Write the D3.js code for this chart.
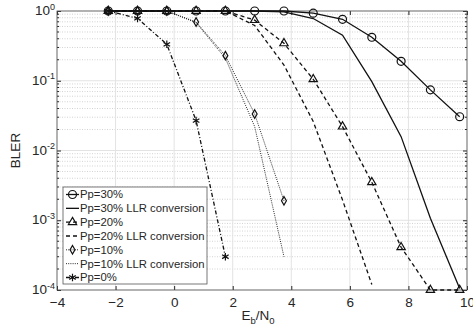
<!DOCTYPE html>
<html>
<head>
<meta charset="utf-8">
<script src="https://cdn.jsdelivr.net/npm/d3@7"></script>
<style>
  body { margin: 0; background: #fff; }
  svg { font-family: "Liberation Sans", Arial, sans-serif; }
</style>
</head>
<body>
<div id="chart"></div>
<script>
let ebn0 = [-2.25, -1.25, -0.25, 0.75, 1.75, 2.75, 3.75, 4.75, 5.75, 6.75, 7.75, 8.75, 9.75]

let pp30 = [1, 1, 1, 1, 1, 1, 1, 0.93, 0.76, 0.42, 0.19, 0.074, 0.0305]
let pp30llr = [1, 1, 1, 1, 1, 1, 0.97, 0.78, 0.45, 0.097, 0.0158, 0.00107, 0.000105]
let pp20 = [1, 1, 1, 1, 1, 0.74, 0.344, 0.105, 0.022, 0.0035, 0.00041, 0.0001, 0.0001]
let pp20llr = [1, 1, 1, 1, 1, 0.62, 0.168, 0.026, 0.00195, 0.00012]
let pp10 = [1, 1, 1, 0.695, 0.229, 0.0334, 0.0019]
let pp10llr = [1, 1, 1, 0.68, 0.21, 0.022, 0.0003]
let pp0 = [1, 0.785, 0.333, 0.0268, 0.0003]

let xTicks = [-4, -2, 0, 2, 4, 6, 8, 10]
let yTicks = [1e-4, 1e-3, 1e-2, 1e-1, 1]
let labels = ['Pp=30%', 'Pp=30% LLR conversion', 'Pp=20%', 'Pp=20% LLR conversion',
  'Pp=10%', 'Pp=10% LLR conversion', 'Pp=0%']

let margin = { top: 11, left: 57, right: 6, bottom: 39 }
let width = 473 - margin.left - margin.right
let height = 329 - margin.top - margin.bottom

let svg = d3
  .select('#chart')
  .append('svg')
  .attr('width', 473)
  .attr('height', 329)
  .append('g')
  .attr('transform', 'translate(' + margin.left + ',' + margin.top + ')')

let x = d3.scaleLinear().domain([-4, 10]).range([0, width])
let y = d3.scaleLog().domain([1e-4, 1]).range([height, 0])

// minor grid (dotted) for the log axis
let minor = []
yTicks.slice(0, -1).forEach(d => {
  for (let k = 2; k <= 9; k++) minor.push(d * k)
})

svg.append('g')
  .selectAll('line')
  .data(minor)
  .enter()
  .append('line')
  .attr('x1', 0)
  .attr('x2', width)
  .attr('y1', d => y(d))
  .attr('y2', d => y(d))
  .attr('stroke', '#c8c8c8')
  .attr('stroke-width', 0.8)
  .attr('stroke-dasharray', '1,1.5')

svg.append('g')
  .selectAll('line')
  .data(yTicks)
  .enter()
  .append('line')
  .attr('x1', 0)
  .attr('x2', width)
  .attr('y1', d => y(d))
  .attr('y2', d => y(d))
  .attr('stroke', '#e3e3e3')

svg.append('g')
  .selectAll('line')
  .data(xTicks)
  .enter()
  .append('line')
  .attr('x1', d => x(d))
  .attr('x2', d => x(d))
  .attr('y1', 0)
  .attr('y2', height)
  .attr('stroke', '#e3e3e3')

// axes, ticks inward like matlab
let xAxis = svg.append('g')
  .attr('transform', 'translate(0,' + height + ')')
  .call(d3.axisBottom(x).tickValues(xTicks).tickSizeInner(-4).tickSizeOuter(0).tickPadding(7))
xAxis.select('.domain').remove()
xAxis.selectAll('line').attr('stroke', '#262626')
xAxis.selectAll('text').attr('font-size', 13.5).attr('fill', '#262626')

svg.append('g')
  .call(d3.axisTop(x).tickValues(xTicks).tickSizeInner(-4).tickSizeOuter(0).tickFormat(''))
  .call(g => g.select('.domain').remove())
  .selectAll('line').attr('stroke', '#262626')

let yAxis = svg.append('g')
  .call(d3.axisLeft(y).tickValues(yTicks).tickSizeInner(-4).tickSizeOuter(0).tickPadding(2).tickFormat(''))
yAxis.select('.domain').remove()
yAxis.selectAll('line').attr('stroke', '#262626')
yAxis.selectAll('.tick text')
  .attr('font-size', 13.5)
  .attr('fill', '#262626')
  .each(function(d) {
    let t = d3.select(this)
    t.append('tspan').attr('dy', 3.5).text('10')
    t.append('tspan')
      .attr('font-size', 9)
      .attr('dy', -5.5)
      .text(Math.round(Math.log10(d)))
  })

svg.append('g')
  .attr('transform', 'translate(' + width + ',0)')
  .call(d3.axisRight(y).tickValues(yTicks).tickSizeInner(-4).tickSizeOuter(0).tickFormat(''))
  .call(g => g.select('.domain').remove())
  .selectAll('line').attr('stroke', '#262626')

// minor ticks on both sides
svg.append('g')
  .selectAll('line')
  .data(minor)
  .enter()
  .append('line')
  .attr('x1', 0)
  .attr('x2', 2)
  .attr('y1', d => y(d))
  .attr('y2', d => y(d))
  .attr('stroke', '#262626')
svg.append('g')
  .selectAll('line')
  .data(minor)
  .enter()
  .append('line')
  .attr('x1', width - 2)
  .attr('x2', width)
  .attr('y1', d => y(d))
  .attr('y2', d => y(d))
  .attr('stroke', '#262626')

svg.append('rect')
  .attr('width', width)
  .attr('height', height)
  .attr('fill', 'none')
  .attr('stroke', '#555')
  .attr('stroke-width', 0.8)

// series
let series = [
  { values: pp30, dash: null, symbol: d3.symbolCircle, size: 50 },
  { values: pp30llr, dash: null, symbol: null },
  { values: pp20, dash: '4,3', symbol: d3.symbolTriangle, size: 30 },
  { values: pp20llr, dash: '4,3', symbol: null },
  { values: pp10, dash: '1,1.2', symbol: d3.symbolDiamond, size: 21 },
  { values: pp10llr, dash: '1,1.2', symbol: null },
  { values: pp0, dash: '4,2,1,2', symbol: d3.symbolAsterisk, size: 40 }
]

let line = d3.line()
  .x((d, i) => x(ebn0[i]))
  .y(d => y(d))

series.forEach(s => {
  svg.append('path')
    .datum(s.values)
    .attr('d', line)
    .attr('fill', 'none')
    .attr('stroke', '#111')
    .attr('stroke-width', s.dash === '1,1.2' ? 0.9 : 1.3)
    .attr('stroke-dasharray', s.dash)

  if (s.symbol) {
    svg.append('g')
      .selectAll('path')
      .data(s.values)
      .enter()
      .append('path')
      .attr('transform', (d, i) => 'translate(' + x(ebn0[i]) + ',' + y(d) + ')')
      .attr('d', d3.symbol().type(s.symbol).size(s.size))
      .attr('fill', 'none')
      .attr('stroke', '#111')
      .attr('stroke-width', 1.2)
  }
})

// axis labels
svg.append('text')
  .attr('transform', 'translate(' + (20 - margin.left) + ',' + (height / 2) + ') rotate(-90)')
  .attr('text-anchor', 'middle')
  .attr('font-size', 13.5)
  .attr('fill', '#262626')
  .text('BLER')

let xl = svg.append('text')
  .attr('x', 201)
  .attr('y', height + 30)
  .attr('text-anchor', 'middle')
  .attr('font-size', 13.5)
  .attr('fill', '#262626')
xl.append('tspan').text('E')
xl.append('tspan').attr('font-size', 9.5).attr('dy', 4).text('b')
xl.append('tspan').attr('dy', -4).text('/N')
xl.append('tspan').attr('font-size', 9.5).attr('dy', 4).text('0')

// legend
let legend = svg.append('g').attr('transform', 'translate(6,176)')
legend.append('rect')
  .attr('width', 144)
  .attr('height', 97)
  .attr('fill', 'white')
  .attr('stroke', '#555')
  .attr('stroke-width', 0.8)

let rows = legend.selectAll('.row')
  .data(series)
  .enter()
  .append('g')
  .attr('class', 'row')
  .attr('transform', (d, i) => 'translate(0,' + (7.5 + i * 13.83) + ')')

rows.append('line')
  .attr('x1', 3)
  .attr('x2', 16)
  .attr('stroke', '#111')
  .attr('stroke-width', d => d.dash === '1,1.2' ? 0.9 : 1.3)
  .attr('stroke-dasharray', d => d.dash)

rows.filter(d => d.symbol)
  .append('path')
  .attr('transform', 'translate(9.5,0)')
  .attr('d', d => d3.symbol().type(d.symbol).size(d.size)())
  .attr('fill', 'none')
  .attr('stroke', '#111')
  .attr('stroke-width', 1.2)

rows.append('text')
  .attr('x', 17)
  .attr('dy', '0.35em')
  .attr('font-size', 11.3)
  .attr('fill', '#262626')
  .text((d, i) => labels[i])
</script>
</body>
</html>
